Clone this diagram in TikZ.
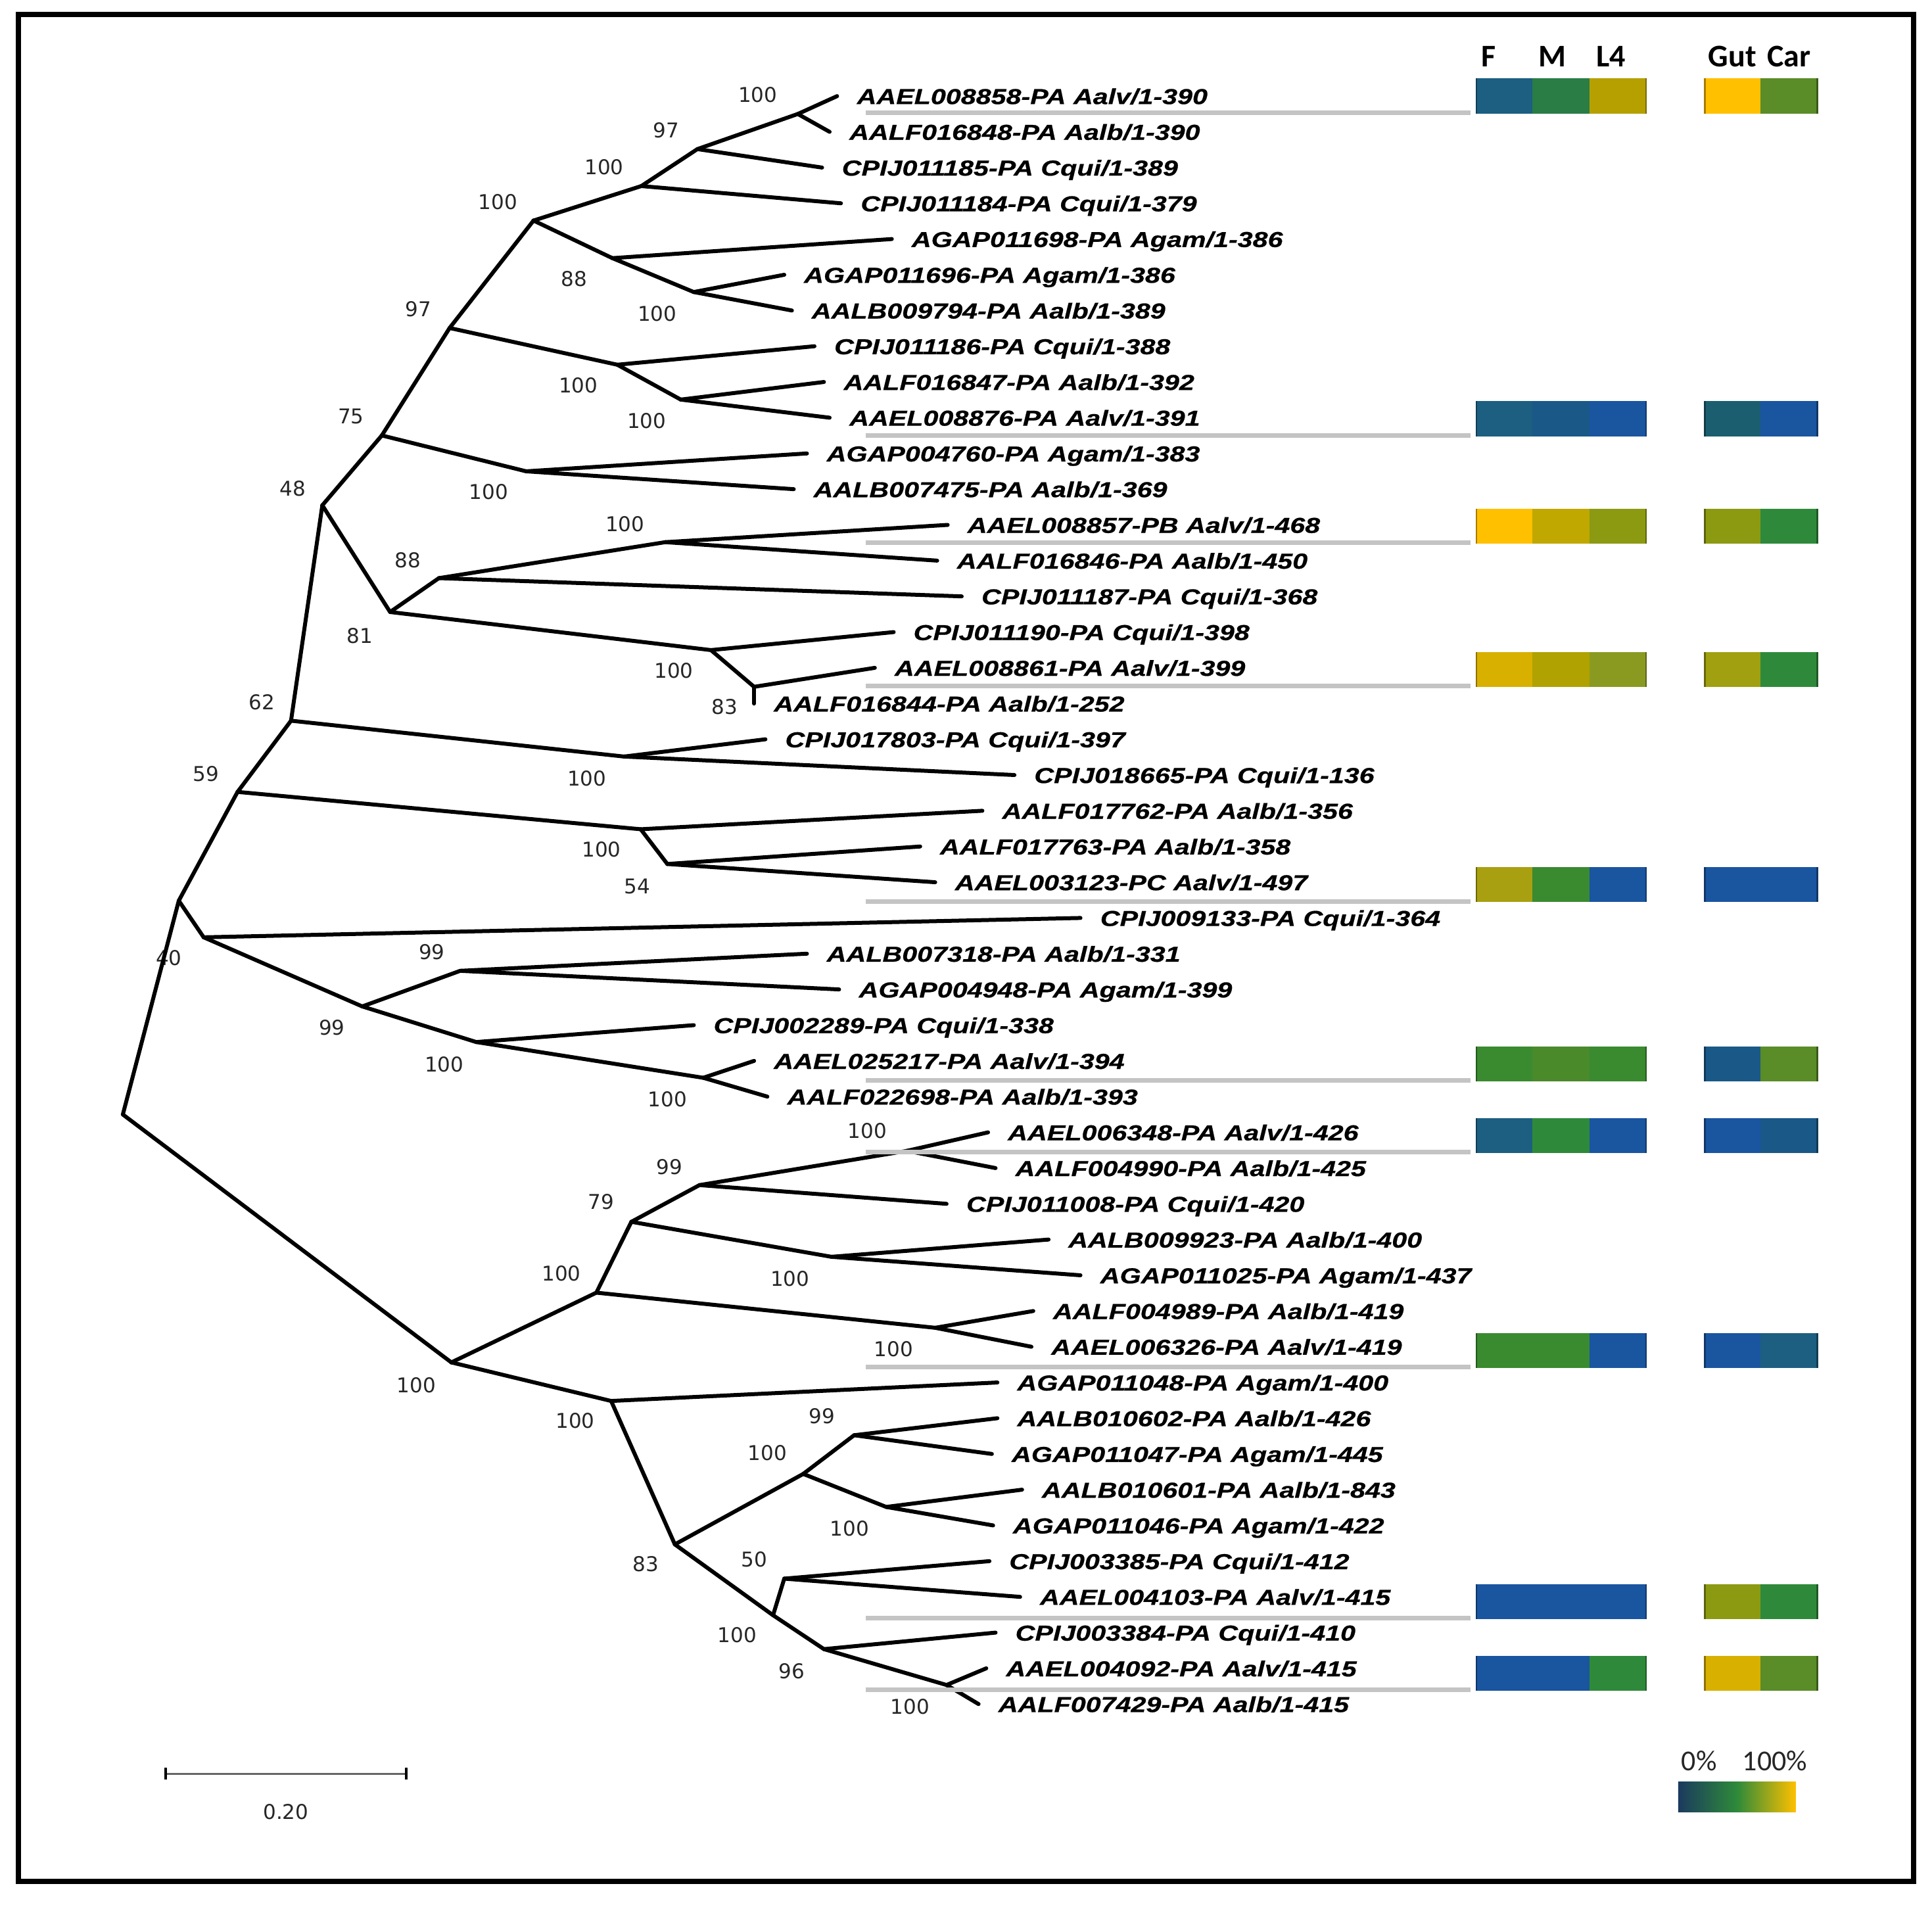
\documentclass[tikz,border=0pt]{standalone}
\usepackage{fontspec}
\newfontfamily\leaffont[FakeStretch=1.25,FakeBold=0.6]{Liberation Sans}
\newfontfamily\bsfont{DejaVu Sans}
\newfontfamily\hdrfont{Carlito}
\definecolor{hBlue}{HTML}{1A55A0}
\definecolor{hBlueT}{HTML}{1A5888}
\definecolor{hTeal}{HTML}{1C5F80}
\definecolor{hTealD}{HTML}{1B5E70}
\definecolor{hGreen}{HTML}{2E8A3A}
\definecolor{hGreenB}{HTML}{2A7D45}
\definecolor{hGreenC}{HTML}{3A8A30}
\definecolor{hGreenO}{HTML}{4A8A2A}
\definecolor{hCarG}{HTML}{5A8C28}
\definecolor{hOlive}{HTML}{8C9A12}
\definecolor{hOliveB}{HTML}{8A9A20}
\definecolor{hOliveC}{HTML}{A0A010}
\definecolor{hOliveD}{HTML}{A8A010}
\definecolor{hOliveY}{HTML}{B5A000}
\definecolor{hOliveE}{HTML}{C0A800}
\definecolor{hOliveF}{HTML}{B0A200}
\definecolor{hGold}{HTML}{D8B000}
\definecolor{hYellow}{HTML}{FFC000}
\definecolor{legNavy}{HTML}{1B3A5E}
\definecolor{legGreen}{HTML}{2E8A3A}
\definecolor{grayln}{HTML}{C4C4C4}
\newcommand\phyleaf[3]{%
  \pgfmathsetmacro\leafy{78+29*(#1-1)}%
  \coordinate (t#1) at (#2,\leafy);
  \node[leaflab] (l#1) at (#2+16,\leafy+6.5) {#3};
}
\newcommand\hmrow[6]{%
  \pgfmathsetmacro\hc{78+29.09*(#1-1)}%
  \draw[grayline] (702.5,\hc+13.5) -- (1193.5,\hc+13.5);
  \fill[#2] (1197.5,\hc-14.25) rectangle (1243.5,\hc+14.25);
  \fill[#3] (1243.5,\hc-14.25) rectangle (1290,\hc+14.25);
  \fill[#4] (1290,\hc-14.25) rectangle (1336.5,\hc+14.25);
  \fill[#5] (1383,\hc-14.25) rectangle (1429,\hc+14.25);
  \fill[#6] (1429,\hc-14.25) rectangle (1475.5,\hc+14.25);
  \draw[line width=2.5pt,#2!65!black] (1198.2,\hc-14.25) -- (1198.2,\hc+14.25);
  \draw[line width=2.5pt,#4!65!black] (1335.8,\hc-14.25) -- (1335.8,\hc+14.25);
  \draw[line width=2.5pt,#5!65!black] (1383.7,\hc-14.25) -- (1383.7,\hc+14.25);
  \draw[line width=2.5pt,#6!65!black] (1474.8,\hc-14.25) -- (1474.8,\hc+14.25);
}
\begin{document}
\begin{tikzpicture}[x=1.8744pt,y=-1.8744pt,
  treeedge/.style={line width=6pt,line cap=round,line join=round},
  leaflab/.style={anchor=base west,inner sep=0pt,font=\leaffont\bfseries\itshape\fontsize{33}{40}\selectfont},
  bootlab/.style={inner sep=0pt,text=black!85,font=\bsfont\fontsize{31}{36}\selectfont},
  grayline/.style={line width=7pt,grayln},
  hdr/.style={anchor=base,inner sep=0pt,font=\hdrfont\bfseries\fontsize{48}{54}\selectfont}]
\useasboundingbox (0,0) rectangle (1568,1549);
\draw[line width=8pt] (14.9,11.7) rectangle (1553,1527);

% internal nodes
\coordinate (R) at (99.7,904.5);
\coordinate (N40) at (145.1,731);
\coordinate (N59) at (192.8,642.7);
\coordinate (N62) at (236.2,584.9);
\coordinate (N48) at (261.6,410.1);
\coordinate (N75) at (309.9,353.4);
\coordinate (N97) at (364.9,266.2);
\coordinate (NA) at (433,179);
\coordinate (NB) at (520.5,151);
\coordinate (NC) at (566,121);
\coordinate (ND) at (647.5,92.5);
\coordinate (NG) at (497,209.5);
\coordinate (NH) at (563,237);
\coordinate (N8) at (501,296);
\coordinate (N9) at (552.5,324.3);
\coordinate (N11) at (427,382.5);
\coordinate (N81) at (316.6,496.7);
\coordinate (N88) at (356.2,469.2);
\coordinate (N13) at (540,440);
\coordinate (N16) at (577,527.6);
\coordinate (N83a) at (612,557.4);
\coordinate (N19) at (506.5,614);
\coordinate (N21) at (520,673);
\coordinate (N54) at (541.6,701.2);
\coordinate (N24) at (165.3,760.7);
\coordinate (N99a) at (294,816.8);
\coordinate (N99b) at (373.5,787.9);
\coordinate (N27) at (386.5,845.7);
\coordinate (N28) at (570.7,874.7);
\coordinate (N100r) at (366.3,1105.7);
\coordinate (N100u) at (484,1049.1);
\coordinate (N79) at (512.4,991.6);
\coordinate (N99c) at (567.7,961.8);
\coordinate (N30) at (736.1,934);
\coordinate (N33) at (674.8,1020);
\coordinate (N35) at (759,1077.6);
\coordinate (N100l) at (496,1137);
\coordinate (N83b) at (547.7,1253.4);
\coordinate (N38g) at (651.9,1196.2);
\coordinate (N99d) at (693.2,1164.8);
\coordinate (N40g) at (719.2,1223);
\coordinate (NX) at (627.4,1310.9);
\coordinate (N50) at (636.5,1281.2);
\coordinate (NY) at (668.7,1338.4);
\coordinate (NZ) at (768.2,1367.5);

% leaves
\phyleaf{1}{679.4}{AAEL008858-PA Aalv/1-390}
\phyleaf{2}{673.3}{AALF016848-PA Aalb/1-390}
\phyleaf{3}{667.2}{CPIJ011185-PA Cqui/1-389}
\phyleaf{4}{682.5}{CPIJ011184-PA Cqui/1-379}
\phyleaf{5}{723.8}{AGAP011698-PA Agam/1-386}
\phyleaf{6}{636.5}{AGAP011696-PA Agam/1-386}
\phyleaf{7}{642.7}{AALB009794-PA Aalb/1-389}
\phyleaf{8}{661}{CPIJ011186-PA Cqui/1-388}
\phyleaf{9}{668.7}{AALF016847-PA Aalb/1-392}
\phyleaf{10}{673.3}{AAEL008876-PA Aalv/1-391}
\phyleaf{11}{654.9}{AGAP004760-PA Agam/1-383}
\phyleaf{12}{644.2}{AALB007475-PA Aalb/1-369}
\phyleaf{13}{769.1}{AAEL008857-PB Aalv/1-468}
\phyleaf{14}{760.6}{AALF016846-PA Aalb/1-450}
\phyleaf{15}{780.5}{CPIJ011187-PA Cqui/1-368}
\phyleaf{16}{725.3}{CPIJ011190-PA Cqui/1-398}
\phyleaf{17}{710}{AAEL008861-PA Aalv/1-399}
\phyleaf{18}{612}{AALF016844-PA Aalb/1-252}
\phyleaf{19}{621.2}{CPIJ017803-PA Cqui/1-397}
\phyleaf{20}{823.3}{CPIJ018665-PA Cqui/1-136}
\phyleaf{21}{797.3}{AALF017762-PA Aalb/1-356}
\phyleaf{22}{746.8}{AALF017763-PA Aalb/1-358}
\phyleaf{23}{759}{AAEL003123-PC Aalv/1-497}
\phyleaf{24}{876.9}{CPIJ009133-PA Cqui/1-364}
\phyleaf{25}{654.9}{AALB007318-PA Aalb/1-331}
\phyleaf{26}{681}{AGAP004948-PA Agam/1-399}
\phyleaf{27}{563.1}{CPIJ002289-PA Cqui/1-338}
\phyleaf{28}{612}{AAEL025217-PA Aalv/1-394}
\phyleaf{29}{622.8}{AALF022698-PA Aalb/1-393}
\phyleaf{30}{801.9}{AAEL006348-PA Aalv/1-426}
\phyleaf{31}{808}{AALF004990-PA Aalb/1-425}
\phyleaf{32}{768.2}{CPIJ011008-PA Cqui/1-420}
\phyleaf{33}{851}{AALB009923-PA Aalb/1-400}
\phyleaf{34}{876.9}{AGAP011025-PA Agam/1-437}
\phyleaf{35}{838.6}{AALF004989-PA Aalb/1-419}
\phyleaf{36}{837.1}{AAEL006326-PA Aalv/1-419}
\phyleaf{37}{809.5}{AGAP011048-PA Agam/1-400}
\phyleaf{38}{809.5}{AALB010602-PA Aalb/1-426}
\phyleaf{39}{805}{AGAP011047-PA Agam/1-445}
\phyleaf{40}{829.5}{AALB010601-PA Aalb/1-843}
\phyleaf{41}{806}{AGAP011046-PA Agam/1-422}
\phyleaf{42}{803}{CPIJ003385-PA Cqui/1-412}
\phyleaf{43}{827.9}{AAEL004103-PA Aalv/1-415}
\phyleaf{44}{808}{CPIJ003384-PA Cqui/1-410}
\phyleaf{45}{800.4}{AAEL004092-PA Aalv/1-415}
\phyleaf{46}{794.2}{AALF007429-PA Aalb/1-415}

% bootstrap values
\foreach \n/\x/\y/\v in {b1/615/77/100, b2/540.7/106/97, b3/490.3/135.4/100, b4/404/164/100,
  b5/466/226.3/88, b6/533.4/254.8/100, b7/339.4/250.8/97, b8/469.3/312.5/100,
  b9/524.8/341.8/100, b10/284.8/338.1/75, b11/396.7/399.4/100, b12/237.6/396.3/48,
  b13/507.2/425.4/100, b14/331/454.5/88, b15/292/515.8/81, b16/546.8/544.4/100,
  b17/588.2/573.9/83, b18/212.5/569.8/62, b19/476.3/631.7/100, b20/167.3/628.3/59,
  b21/488.2/689.6/100, b22/517/719.4/54, b23/137/777.2/40, b24/350.4/772.9/99,
  b25/269.4/834.2/99, b26/360.5/864/100, b27/541.6/892.3/100, b28/703.9/918/100,
  b29/543.2/947/99, b30/488/975.4/79, b31/641.1/1037.8/100, b32/455.6/1033.6/100,
  b33/725.3/1095/100, b34/338/1124.1/100, b35/466.8/1153.2/100, b36/667.2/1149.3/99,
  b37/622.8/1179/100, b38/689.5/1240.4/100, b39/524.1/1269.5/83, b40/612/1265.6/50,
  b41/598.3/1327/100, b42/642.7/1356.1/96, b43/738.5/1385.2/100}
  \node[bootlab] (\n) at (\x,\y) {\v};

% branches
\foreach \a/\b in {R/N40, R/N100r, N40/N59, N40/N24, N59/N62, N59/N21, N62/N48, N62/N19,
  N48/N75, N48/N81, N75/N97, N75/N11, N97/NA, N97/N8, NA/NB, NA/NG, NB/NC, NB/t4,
  NC/ND, NC/t3, ND/t1, ND/t2, NG/t5, NG/NH, NH/t6, NH/t7, N8/t8, N8/N9, N9/t9, N9/t10,
  N11/t11, N11/t12, N81/N88, N81/N16, N88/N13, N88/t15, N13/t13, N13/t14,
  N16/t16, N16/N83a, N83a/t17, N83a/t18, N19/t19, N19/t20, N21/t21, N21/N54,
  N54/t22, N54/t23, N24/t24, N24/N99a, N99a/N99b, N99a/N27, N99b/t25, N99b/t26,
  N27/t27, N27/N28, N28/t28, N28/t29, N100r/N100u, N100r/N100l, N100u/N79, N100u/N35,
  N79/N99c, N79/N33, N99c/N30, N99c/t32, N30/t30, N30/t31, N33/t33, N33/t34,
  N35/t35, N35/t36, N100l/t37, N100l/N83b, N83b/N38g, N83b/NX, N38g/N99d, N38g/N40g,
  N99d/t38, N99d/t39, N40g/t40, N40g/t41, NX/N50, NX/NY, N50/t42, N50/t43,
  NY/t44, NY/NZ, NZ/t45, NZ/t46}
  \draw[treeedge] (\a) -- (\b);

% heat map
\node[hdr] (hF) at (1208,54) {F};
\node[hdr] (hM) at (1260,54) {M};
\node[hdr] (hL) at (1307.5,54) {L4};
\node[hdr] (hG) at (1406,54) {Gut};
\node[hdr] (hC) at (1452,54) {Car};
\hmrow{1}{hTeal}{hGreenB}{hOliveY}{hYellow}{hCarG}
\hmrow{10}{hTeal}{hBlueT}{hBlue}{hTealD}{hBlue}
\hmrow{13}{hYellow}{hOliveE}{hOlive}{hOlive}{hGreen}
\hmrow{17}{hGold}{hOliveF}{hOliveB}{hOliveC}{hGreen}
\hmrow{23}{hOliveD}{hGreenC}{hBlue}{hBlue}{hBlue}
\hmrow{28}{hGreenC}{hGreenO}{hGreenC}{hBlueT}{hCarG}
\hmrow{30}{hTeal}{hGreen}{hBlue}{hBlue}{hBlueT}
\hmrow{36}{hGreenC}{hGreenC}{hBlue}{hBlue}{hTeal}
\hmrow{43}{hBlue}{hBlue}{hBlue}{hOlive}{hGreen}
\hmrow{45}{hBlue}{hBlue}{hGreen}{hGold}{hCarG}

% scale bar
\coordinate (s1) at (134.3,1439.6);
\coordinate (s2) at (329.9,1439.6);
\draw[line width=3.5pt,black!60] (s1) -- (s2);
\draw[line width=4pt] ([yshift=-9pt]s1) -- ([yshift=9pt]s1);
\draw[line width=4pt] ([yshift=-9pt]s2) -- ([yshift=9pt]s2);
\node[bootlab] (sl) at (232,1470.7) {0.20};

% colour legend
\shade[left color=legNavy,right color=hYellow,middle color=legGreen] (1362,1446) rectangle (1457.5,1470.4);
\node[inner sep=0pt,text=black!85,font=\hdrfont\fontsize{44}{50}\selectfont] (p0) at (1379,1429) {0\%};
\node[inner sep=0pt,text=black!85,font=\hdrfont\fontsize{44}{50}\selectfont] (p100) at (1440.5,1429) {100\%};
\end{tikzpicture}
\end{document}
